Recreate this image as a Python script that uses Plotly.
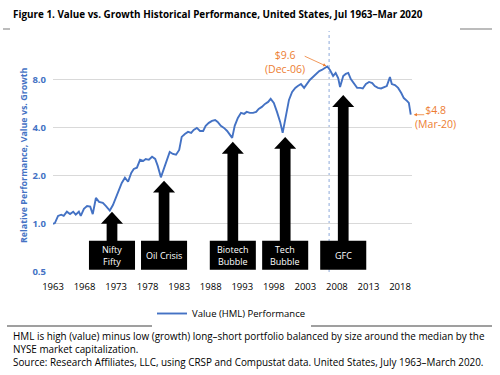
import math
import plotly.graph_objects as go

# ---------------- data ----------------
years = [1963.5, 1963.8, 1964.3, 1964.8, 1965.2, 1965.7, 1966.2, 1966.7, 1967.1, 1967.6,
         1967.9, 1968.4, 1968.9, 1969.4, 1969.8, 1970.3, 1970.8, 1971.4, 1971.9, 1972.5,
         1973.0, 1973.5, 1973.9, 1974.4, 1974.9, 1975.4, 1975.9, 1976.3, 1976.8, 1977.3,
         1977.8, 1978.2, 1978.7, 1979.2, 1979.7, 1980.1, 1980.6, 1981.1, 1981.6, 1982.0,
         1982.5, 1983.0, 1983.5, 1983.9, 1984.4, 1984.9, 1985.4, 1985.8, 1986.3, 1986.8,
         1987.3, 1987.7, 1988.2, 1988.7, 1989.2, 1989.6, 1990.1, 1990.6, 1991.1, 1991.5,
         1991.9, 1992.3, 1992.8, 1993.3, 1993.8, 1994.2, 1994.7, 1995.2, 1995.7, 1996.1,
         1996.6, 1997.1, 1997.6, 1998.0, 1998.5, 1999.0, 1999.5, 1999.9, 2000.4, 2000.9,
         2001.4, 2001.9, 2002.3, 2002.8, 2003.3, 2003.8, 2004.2, 2004.7, 2005.2, 2005.7,
         2006.1, 2006.6, 2006.96, 2007.4, 2007.9, 2008.3, 2008.7, 2009.0, 2009.5, 2009.9,
         2010.3, 2010.7, 2011.2, 2011.7, 2012.2, 2012.6, 2013.1, 2013.6, 2014.1, 2014.5,
         2015.0, 2015.5, 2016.0, 2016.4, 2016.9, 2017.2, 2017.7, 2018.2, 2018.7, 2019.1,
         2019.6, 2019.9, 2020.2]
values = [1.00, 1.01, 1.12, 1.14, 1.12, 1.19, 1.15, 1.19, 1.14, 1.19,
          1.12, 1.24, 1.29, 1.28, 1.15, 1.45, 1.37, 1.35, 1.29, 1.21,
          1.31, 1.47, 1.58, 1.80, 1.94, 1.83, 2.08, 2.20, 2.24, 2.51,
          2.47, 2.54, 2.51, 2.62, 2.54, 2.30, 1.95, 2.24, 2.51, 2.81,
          2.73, 2.70, 2.89, 3.49, 3.64, 3.75, 3.70, 3.86, 3.97, 3.80,
          3.80, 4.09, 4.27, 4.39, 4.45, 4.33, 4.09, 3.97, 3.80, 3.59,
          3.44, 4.09, 4.58, 4.93, 4.86, 5.00, 4.93, 4.93, 5.00, 5.22,
          5.37, 5.61, 5.77, 6.03, 5.69, 5.00, 4.33, 3.70, 4.58, 5.94,
          6.66, 7.06, 7.25, 7.46, 7.06, 7.57, 7.91, 8.25, 8.63, 9.00,
          9.14, 9.41, 9.60, 9.14, 8.38, 8.75, 8.13, 7.14, 8.38, 8.63,
          8.75, 8.02, 7.46, 7.06, 7.06, 7.00, 7.46, 7.69, 7.57, 7.25,
          7.06, 7.00, 7.14, 7.25, 8.25, 7.46, 7.35, 7.06, 6.56, 6.10,
          5.86, 5.69, 4.80]

x_tick_years = [1963, 1968, 1973, 1978, 1983, 1988, 1993, 1998, 2003, 2008, 2013, 2018]
y_tick_vals = [0.5, 1, 2, 4, 8]
y_tick_text = ["0.5", "1.0", "2.0", "4.0", "8.0"]

event_names = ["Nifty<br>Fifty", "Oil Crisis", "Biotech<br>Bubble", "Tech<br>Bubble", "GFC"]
event_years = [1972.85, 1981.1, 1992.0, 2000.3, 2009.5]
event_tip_values = [1.19, 1.86, 3.25, 3.49, 6.38]

peak_year, peak_value, peak_label = 2006.96, 9.6, "$9.6<br>(Dec-06)"
end_year, end_value, end_label = 2020.2, 4.8, "$4.8<br>(Mar-20)"

series_name = "Value (HML) Performance"
title_text = "Figure 1. Value vs. Growth Historical Performance, United States, Jul 1963\u2013Mar 2020"
y_title = "Relative Performance, Value vs. Growth"
footer_text = ("HML is high (value) minus low (growth) long\u2013short portfolio balanced by size around the median by the<br>"
               "NYSE market capitalization.<br>"
               "Source: Research Affiliates, LLC, using CRSP and Compustat data. United States, July 1963\u2013March 2020.")

# ---------------- style ----------------
FONT = "Open Sans"
BLUE = "#4472C4"
ORANGE = "#ED7D31"
W, H = 500, 375
ML, MR, MT, MB = 53, 88, 31, 103
PW, PH = W - ML - MR, H - MT - MB


def px_x(px):
    return (px - ML) / PW


def px_y(py):
    return (H - MB - py) / PH


fig = go.Figure()
fig.add_trace(go.Scatter(x=years, y=values, mode="lines", name=series_name,
                         line=dict(color=BLUE, width=1.9)))

shapes = []
annotations = []

# vertical dotted line at the peak
shapes.append(dict(type="line", xref="x", yref="paper", x0=peak_year + 0.3, x1=peak_year + 0.3,
                   y0=0, y1=1, line=dict(color="#8EA9DB", width=1, dash="dot"), layer="below"))

# block arrows + labelled boxes
hw, sw, box_half = 1.75, 0.85, 3.65
for name, cx, vt in zip(event_names, event_years, event_tip_values):
    vb = vt * 0.842
    path = (f"M {cx},{vt} L {cx + hw},{vb} L {cx + sw},{vb} L {cx + sw},0.70 "
            f"L {cx - sw},0.70 L {cx - sw},{vb} L {cx - hw},{vb} Z")
    shapes.append(dict(type="path", xref="x", yref="y", path=path,
                       fillcolor="black", line=dict(width=0), layer="above"))
    shapes.append(dict(type="rect", xref="x", yref="y", x0=cx - box_half, x1=cx + box_half,
                       y0=0.517, y1=0.784, fillcolor="black", line=dict(width=0), layer="above"))
    annotations.append(dict(x=cx, y=math.log10(0.637), xref="x", yref="y", text=name,
                            showarrow=False, font=dict(family=FONT, size=9, color="white")))

# peak annotation
annotations.append(dict(x=peak_year, y=math.log10(peak_value), xref="x", yref="y", text="",
                        showarrow=True, ax=-24, ay=-11, arrowhead=2, arrowsize=0.8,
                        arrowwidth=0.8, arrowcolor=ORANGE, standoff=1))
annotations.append(dict(x=peak_year, y=math.log10(peak_value), xref="x", yref="y",
                        text=peak_label, showarrow=False, xshift=-42, yshift=5,
                        font=dict(family=FONT, size=10.5, color=ORANGE)))
# end annotation
annotations.append(dict(x=end_year, y=math.log10(end_value), xref="x", yref="y", text="",
                        showarrow=True, ax=15, ay=0, arrowhead=2, arrowsize=0.8,
                        arrowwidth=0.8, arrowcolor=ORANGE, standoff=3))
annotations.append(dict(x=end_year, y=math.log10(end_value), xref="x", yref="y",
                        text=end_label, showarrow=False, xshift=25, yshift=-2,
                        font=dict(family=FONT, size=10.5, color=ORANGE)))

# y-axis title
annotations.append(dict(x=px_x(23), y=px_y(155), xref="paper", yref="paper", text=f"<b>{y_title}</b>",
                        textangle=-90, showarrow=False, xanchor="center", yanchor="middle",
                        font=dict(family=FONT, size=8.9, color=BLUE)))

# footer
annotations.append(dict(x=px_x(11), y=px_y(327), xref="paper", yref="paper", text=footer_text,
                        showarrow=False, align="left", xanchor="left", yanchor="top",
                        font=dict(family=FONT, size=9.9, color="black")))

# separator rules
shapes.append(dict(type="line", xref="paper", yref="paper", x0=px_x(7), x1=px_x(492),
                   y0=px_y(326), y1=px_y(326), line=dict(color="#7F7F7F", width=1.5)))
shapes.append(dict(type="line", xref="paper", yref="paper", x0=px_x(3), x1=px_x(10),
                   y0=px_y(29), y1=px_y(29), line=dict(color="#A6A6A6", width=1.5)))
shapes.append(dict(type="line", xref="paper", yref="paper", x0=px_x(460), x1=px_x(492),
                   y0=px_y(29), y1=px_y(29), line=dict(color="#A6A6A6", width=1.5)))

fig.update_layout(
    width=W, height=H,
    margin=dict(l=ML, r=MR, t=MT, b=MB, autoexpand=False),
    paper_bgcolor="white", plot_bgcolor="white",
    title=dict(text=f"<b>{title_text}</b>", x=13 / W, xanchor="left", y=1 - 15 / H, yanchor="middle",
               font=dict(family=FONT, size=9.9, color="black")),
    showlegend=True,
    legend=dict(orientation="h", x=px_x(152), xanchor="left", y=px_y(299), yanchor="top",
                font=dict(family=FONT, size=9.5, color="black"), itemwidth=30),
    xaxis=dict(range=[1963.5, 2020.4], tickvals=[y + 0.5 for y in x_tick_years],
               ticktext=[str(y) for y in x_tick_years], showgrid=False, zeroline=False,
               showline=False, ticks="", ticklabelstandoff=7,
               tickfont=dict(family=FONT, size=9.5, color="black")),
    yaxis=dict(type="log", range=[math.log10(0.5), math.log10(16)], tickvals=y_tick_vals,
               ticktext=y_tick_text, showgrid=True, gridcolor="#D9D9D9", gridwidth=1,
               zeroline=False, showline=False, ticks="", ticklabelstandoff=6,
               tickfont=dict(family=FONT, size=9.5, color=BLUE, weight="bold")),
    shapes=shapes,
    annotations=annotations,
)

fig.write_html("out.html", config={"displayModeBar": False},
               post_script="document.body.style.margin='0px';")
